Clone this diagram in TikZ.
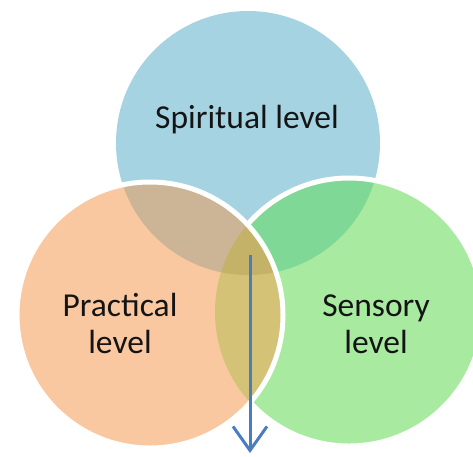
\documentclass[tikz,border=0pt]{standalone}
\usepackage{fontspec}
\setmainfont{Carlito}
\usetikzlibrary{arrows.meta}
\definecolor{cblue}{RGB}{166,211,225}
\definecolor{corange}{RGB}{249,200,160}
\definecolor{cgreen}{RGB}{168,235,160}
\definecolor{cbo}{RGB}{204,181,151}
\definecolor{cbg}{RGB}{128,216,150}
\definecolor{cog}{RGB}{212,194,118}
\definecolor{cbog}{RGB}{196,178,104}
\definecolor{carrow}{RGB}{74,124,192}
\definecolor{ctext}{RGB}{20,20,20}
\tikzset{
  rim/.style={draw=white,line width=5pt},
  lbl/.style={font=\fontsize{33.5}{36.5}\selectfont,text=ctext,align=center,inner sep=0pt},
}
\begin{document}
\begin{tikzpicture}[x=1pt,y=-1pt]
\useasboundingbox (0,0) rectangle (473,456);
\def\blue{(248,143) circle[radius=132]}
\def\orange{(150,315) circle[radius=133]}
\def\green{(349,312) circle[radius=134]}
\fill[cblue] \blue;
\fill[cgreen] \green;
\begin{scope}\clip \blue; \fill[cbg] \green; \end{scope}
\draw[rim] \green;
\fill[corange] \orange;
\begin{scope}\clip \orange; \fill[cbo] \blue; \end{scope}
\begin{scope}\clip \orange; \fill[cog] \green; \end{scope}
\begin{scope}\clip \orange; \clip \green; \fill[cbog] \blue; \end{scope}
\draw[rim] \orange;
\coordinate (a0) at (250,255);
\coordinate (a1) at (250,453);
\draw[carrow,line width=3pt,-{Straight Barb[length=24pt,width=34pt,line width=3pt]}] (a0) -- (a1);
\node[lbl,anchor=base] (sp) at (247,128) {Spiritual level};
\node[lbl,anchor=base] (pr) at (120,353) {Practical\\level};
\node[lbl,anchor=base] (se) at (376,353) {Sensory\\level};
\end{tikzpicture}
\end{document}
